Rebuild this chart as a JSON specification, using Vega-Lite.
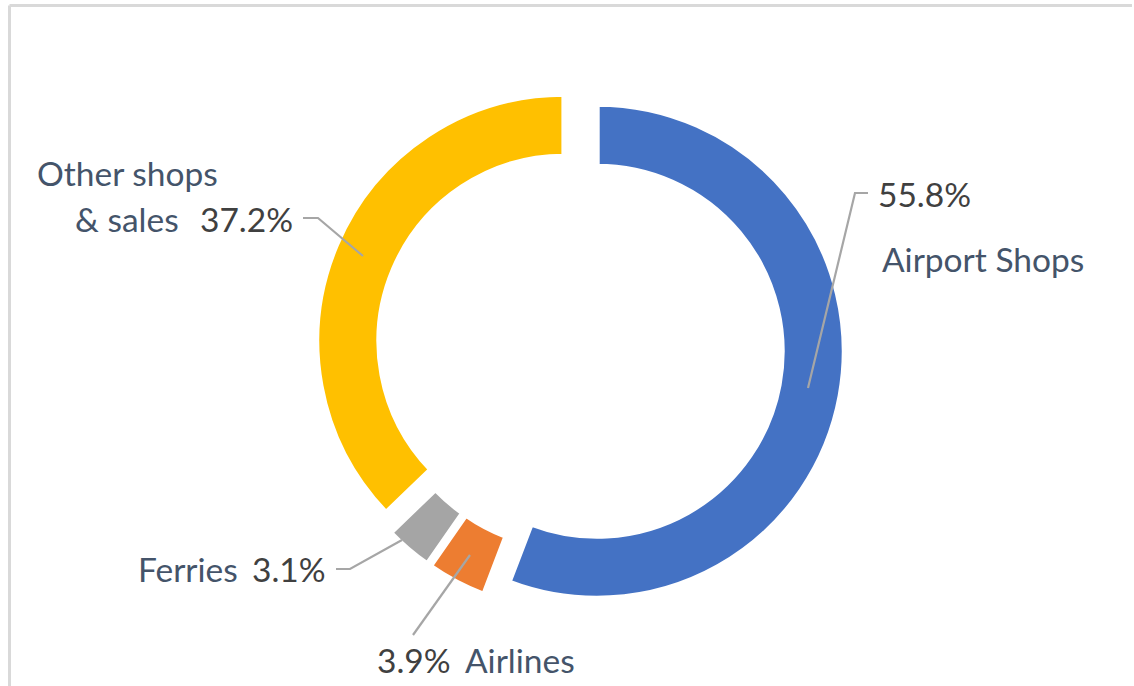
{
  "$schema": "https://vega.github.io/schema/vega-lite/v6.json",
  "width": 1134,
  "height": 686,
  "autosize": {"type": "none"},
  "padding": 0,
  "background": "white",
  "config": {"view": {"stroke": null}},
  "datasets": {
    "shares": [
      {"category": "Airport Shops", "share": 55.8, "order": 1},
      {"category": "Airlines", "share": 3.9, "order": 2},
      {"category": "Ferries", "share": 3.1, "order": 3},
      {"category": "Other shops & sales", "share": 37.2, "order": 4}
    ],
    "names": [
      {"text": "Airport Shops", "x": 302, "y": 76},
      {"text": "Other shops", "x": -543, "y": 162},
      {"text": "& sales", "x": -505, "y": 116},
      {"text": "Ferries", "x": -442, "y": -234},
      {"text": "Airlines", "x": -115, "y": -325}
    ],
    "pcts": [
      {"text": "55.8%", "x": 298, "y": 141},
      {"text": "37.2%", "x": -380, "y": 116},
      {"text": "3.1%", "x": -328, "y": -234},
      {"text": "3.9%", "x": -203, "y": -325}
    ],
    "leaders": [
      {"id": "Airport Shops", "seq": 1, "x": 228, "y": -40},
      {"id": "Airport Shops", "seq": 2, "x": 275, "y": 155},
      {"id": "Airport Shops", "seq": 3, "x": 288, "y": 155},
      {"id": "Other", "seq": 1, "x": -277, "y": 130},
      {"id": "Other", "seq": 2, "x": -262, "y": 130},
      {"id": "Other", "seq": 3, "x": -217, "y": 92},
      {"id": "Ferries", "seq": 1, "x": -244, "y": -221},
      {"id": "Ferries", "seq": 2, "x": -230, "y": -221},
      {"id": "Ferries", "seq": 3, "x": -178, "y": -192},
      {"id": "Airlines", "seq": 1, "x": -110, "y": -207},
      {"id": "Airlines", "seq": 2, "x": -167, "y": -287}
    ]
  },
  "layer": [
    {
      "data": {"values": [{}]},
      "mark": {"type": "rule", "color": "#D9D9D9", "strokeWidth": 3},
      "encoding": {
        "x": {"datum": -570.5, "type": "quantitative", "scale": {"domain": [-580, 554], "nice": false, "zero": false}, "axis": null},
        "y": {"datum": -338, "type": "quantitative", "scale": {"domain": [-338, 348], "nice": false, "zero": false}, "axis": null},
        "y2": {"datum": 342.5}
      }
    },
    {
      "data": {"values": [{}]},
      "mark": {"type": "rule", "color": "#D9D9D9", "strokeWidth": 3},
      "encoding": {
        "x": {"datum": -570.5, "type": "quantitative", "scale": {"domain": [-580, 554], "nice": false, "zero": false}, "axis": null},
        "x2": {"datum": 552},
        "y": {"datum": 342.5, "type": "quantitative", "scale": {"domain": [-338, 348], "nice": false, "zero": false}, "axis": null}
      }
    },
    {
      "data": {"name": "shares"},
      "transform": [
        {"stack": "share", "groupby": [], "as": ["s0", "s1"], "sort": [{"field": "order", "order": "ascending"}]},
        {"filter": "datum.category === 'Airport Shops'"}
      ],
      "mark": {"type": "arc", "outerRadius": 247, "innerRadius": 185, "stroke": "white", "strokeWidth": 5, "xOffset": 17.2, "yOffset": 3.2},
      "encoding": {
        "x": {"datum": 0, "type": "quantitative", "scale": {"domain": [-580, 554], "nice": false, "zero": false}, "axis": null},
        "y": {"datum": 0, "type": "quantitative", "scale": {"domain": [-338, 348], "nice": false, "zero": false}, "axis": null},
        "theta": {"field": "s0", "type": "quantitative", "scale": {"domain": [0, 100]}},
        "theta2": {"field": "s1"},
        "color": {"field": "category", "type": "nominal", "scale": {"domain": ["Airport Shops", "Airlines", "Ferries", "Other shops & sales"], "range": ["#4472C4", "#ED7D31", "#A5A5A5", "#FFC000"]}, "legend": null}
      }
    },
    {
      "data": {"name": "shares"},
      "transform": [
        {"stack": "share", "groupby": [], "as": ["s0", "s1"], "sort": [{"field": "order", "order": "ascending"}]},
        {"filter": "datum.category === 'Airlines'"}
      ],
      "mark": {"type": "arc", "outerRadius": 247, "innerRadius": 185, "stroke": "white", "strokeWidth": 5, "xOffset": -8.2, "yOffset": 15.5},
      "encoding": {
        "x": {"datum": 0, "type": "quantitative", "scale": {"domain": [-580, 554], "nice": false, "zero": false}, "axis": null},
        "y": {"datum": 0, "type": "quantitative", "scale": {"domain": [-338, 348], "nice": false, "zero": false}, "axis": null},
        "theta": {"field": "s0", "type": "quantitative", "scale": {"domain": [0, 100]}},
        "theta2": {"field": "s1"},
        "color": {"field": "category", "type": "nominal", "scale": {"domain": ["Airport Shops", "Airlines", "Ferries", "Other shops & sales"], "range": ["#4472C4", "#ED7D31", "#A5A5A5", "#FFC000"]}, "legend": null}
      }
    },
    {
      "data": {"name": "shares"},
      "transform": [
        {"stack": "share", "groupby": [], "as": ["s0", "s1"], "sort": [{"field": "order", "order": "ascending"}]},
        {"filter": "datum.category === 'Ferries'"}
      ],
      "mark": {"type": "arc", "outerRadius": 247, "innerRadius": 185, "stroke": "white", "strokeWidth": 5, "xOffset": -11.4, "yOffset": 13.3},
      "encoding": {
        "x": {"datum": 0, "type": "quantitative", "scale": {"domain": [-580, 554], "nice": false, "zero": false}, "axis": null},
        "y": {"datum": 0, "type": "quantitative", "scale": {"domain": [-338, 348], "nice": false, "zero": false}, "axis": null},
        "theta": {"field": "s0", "type": "quantitative", "scale": {"domain": [0, 100]}},
        "theta2": {"field": "s1"},
        "color": {"field": "category", "type": "nominal", "scale": {"domain": ["Airport Shops", "Airlines", "Ferries", "Other shops & sales"], "range": ["#4472C4", "#ED7D31", "#A5A5A5", "#FFC000"]}, "legend": null}
      }
    },
    {
      "data": {"name": "shares"},
      "transform": [
        {"stack": "share", "groupby": [], "as": ["s0", "s1"], "sort": [{"field": "order", "order": "ascending"}]},
        {"filter": "datum.category === 'Other shops & sales'"}
      ],
      "mark": {"type": "arc", "outerRadius": 247, "innerRadius": 185, "stroke": "white", "strokeWidth": 5, "xOffset": -16.1, "yOffset": -6.8},
      "encoding": {
        "x": {"datum": 0, "type": "quantitative", "scale": {"domain": [-580, 554], "nice": false, "zero": false}, "axis": null},
        "y": {"datum": 0, "type": "quantitative", "scale": {"domain": [-338, 348], "nice": false, "zero": false}, "axis": null},
        "theta": {"field": "s0", "type": "quantitative", "scale": {"domain": [0, 100]}},
        "theta2": {"field": "s1"},
        "color": {"field": "category", "type": "nominal", "scale": {"domain": ["Airport Shops", "Airlines", "Ferries", "Other shops & sales"], "range": ["#4472C4", "#ED7D31", "#A5A5A5", "#FFC000"]}, "legend": null}
      }
    },
    {
      "data": {"name": "leaders"},
      "mark": {"type": "line", "color": "#A6A6A6", "strokeWidth": 2.2},
      "encoding": {
        "x": {"field": "x", "type": "quantitative", "scale": {"domain": [-580, 554], "nice": false, "zero": false}, "axis": null},
        "y": {"field": "y", "type": "quantitative", "scale": {"domain": [-338, 348], "nice": false, "zero": false}, "axis": null},
        "detail": {"field": "id", "type": "nominal"},
        "order": {"field": "seq", "type": "quantitative"}
      }
    },
    {
      "data": {"name": "names"},
      "mark": {"type": "text", "align": "left", "baseline": "alphabetic", "font": "Lato", "fontSize": 33.5, "color": "#44546A"},
      "encoding": {
        "x": {"field": "x", "type": "quantitative", "scale": {"domain": [-580, 554], "nice": false, "zero": false}, "axis": null},
        "y": {"field": "y", "type": "quantitative", "scale": {"domain": [-338, 348], "nice": false, "zero": false}, "axis": null},
        "text": {"field": "text", "type": "nominal"}
      }
    },
    {
      "data": {"name": "pcts"},
      "mark": {"type": "text", "align": "left", "baseline": "alphabetic", "font": "Lato", "fontSize": 33.5, "color": "#404040"},
      "encoding": {
        "x": {"field": "x", "type": "quantitative", "scale": {"domain": [-580, 554], "nice": false, "zero": false}, "axis": null},
        "y": {"field": "y", "type": "quantitative", "scale": {"domain": [-338, 348], "nice": false, "zero": false}, "axis": null},
        "text": {"field": "text", "type": "nominal"}
      }
    }
  ]
}
